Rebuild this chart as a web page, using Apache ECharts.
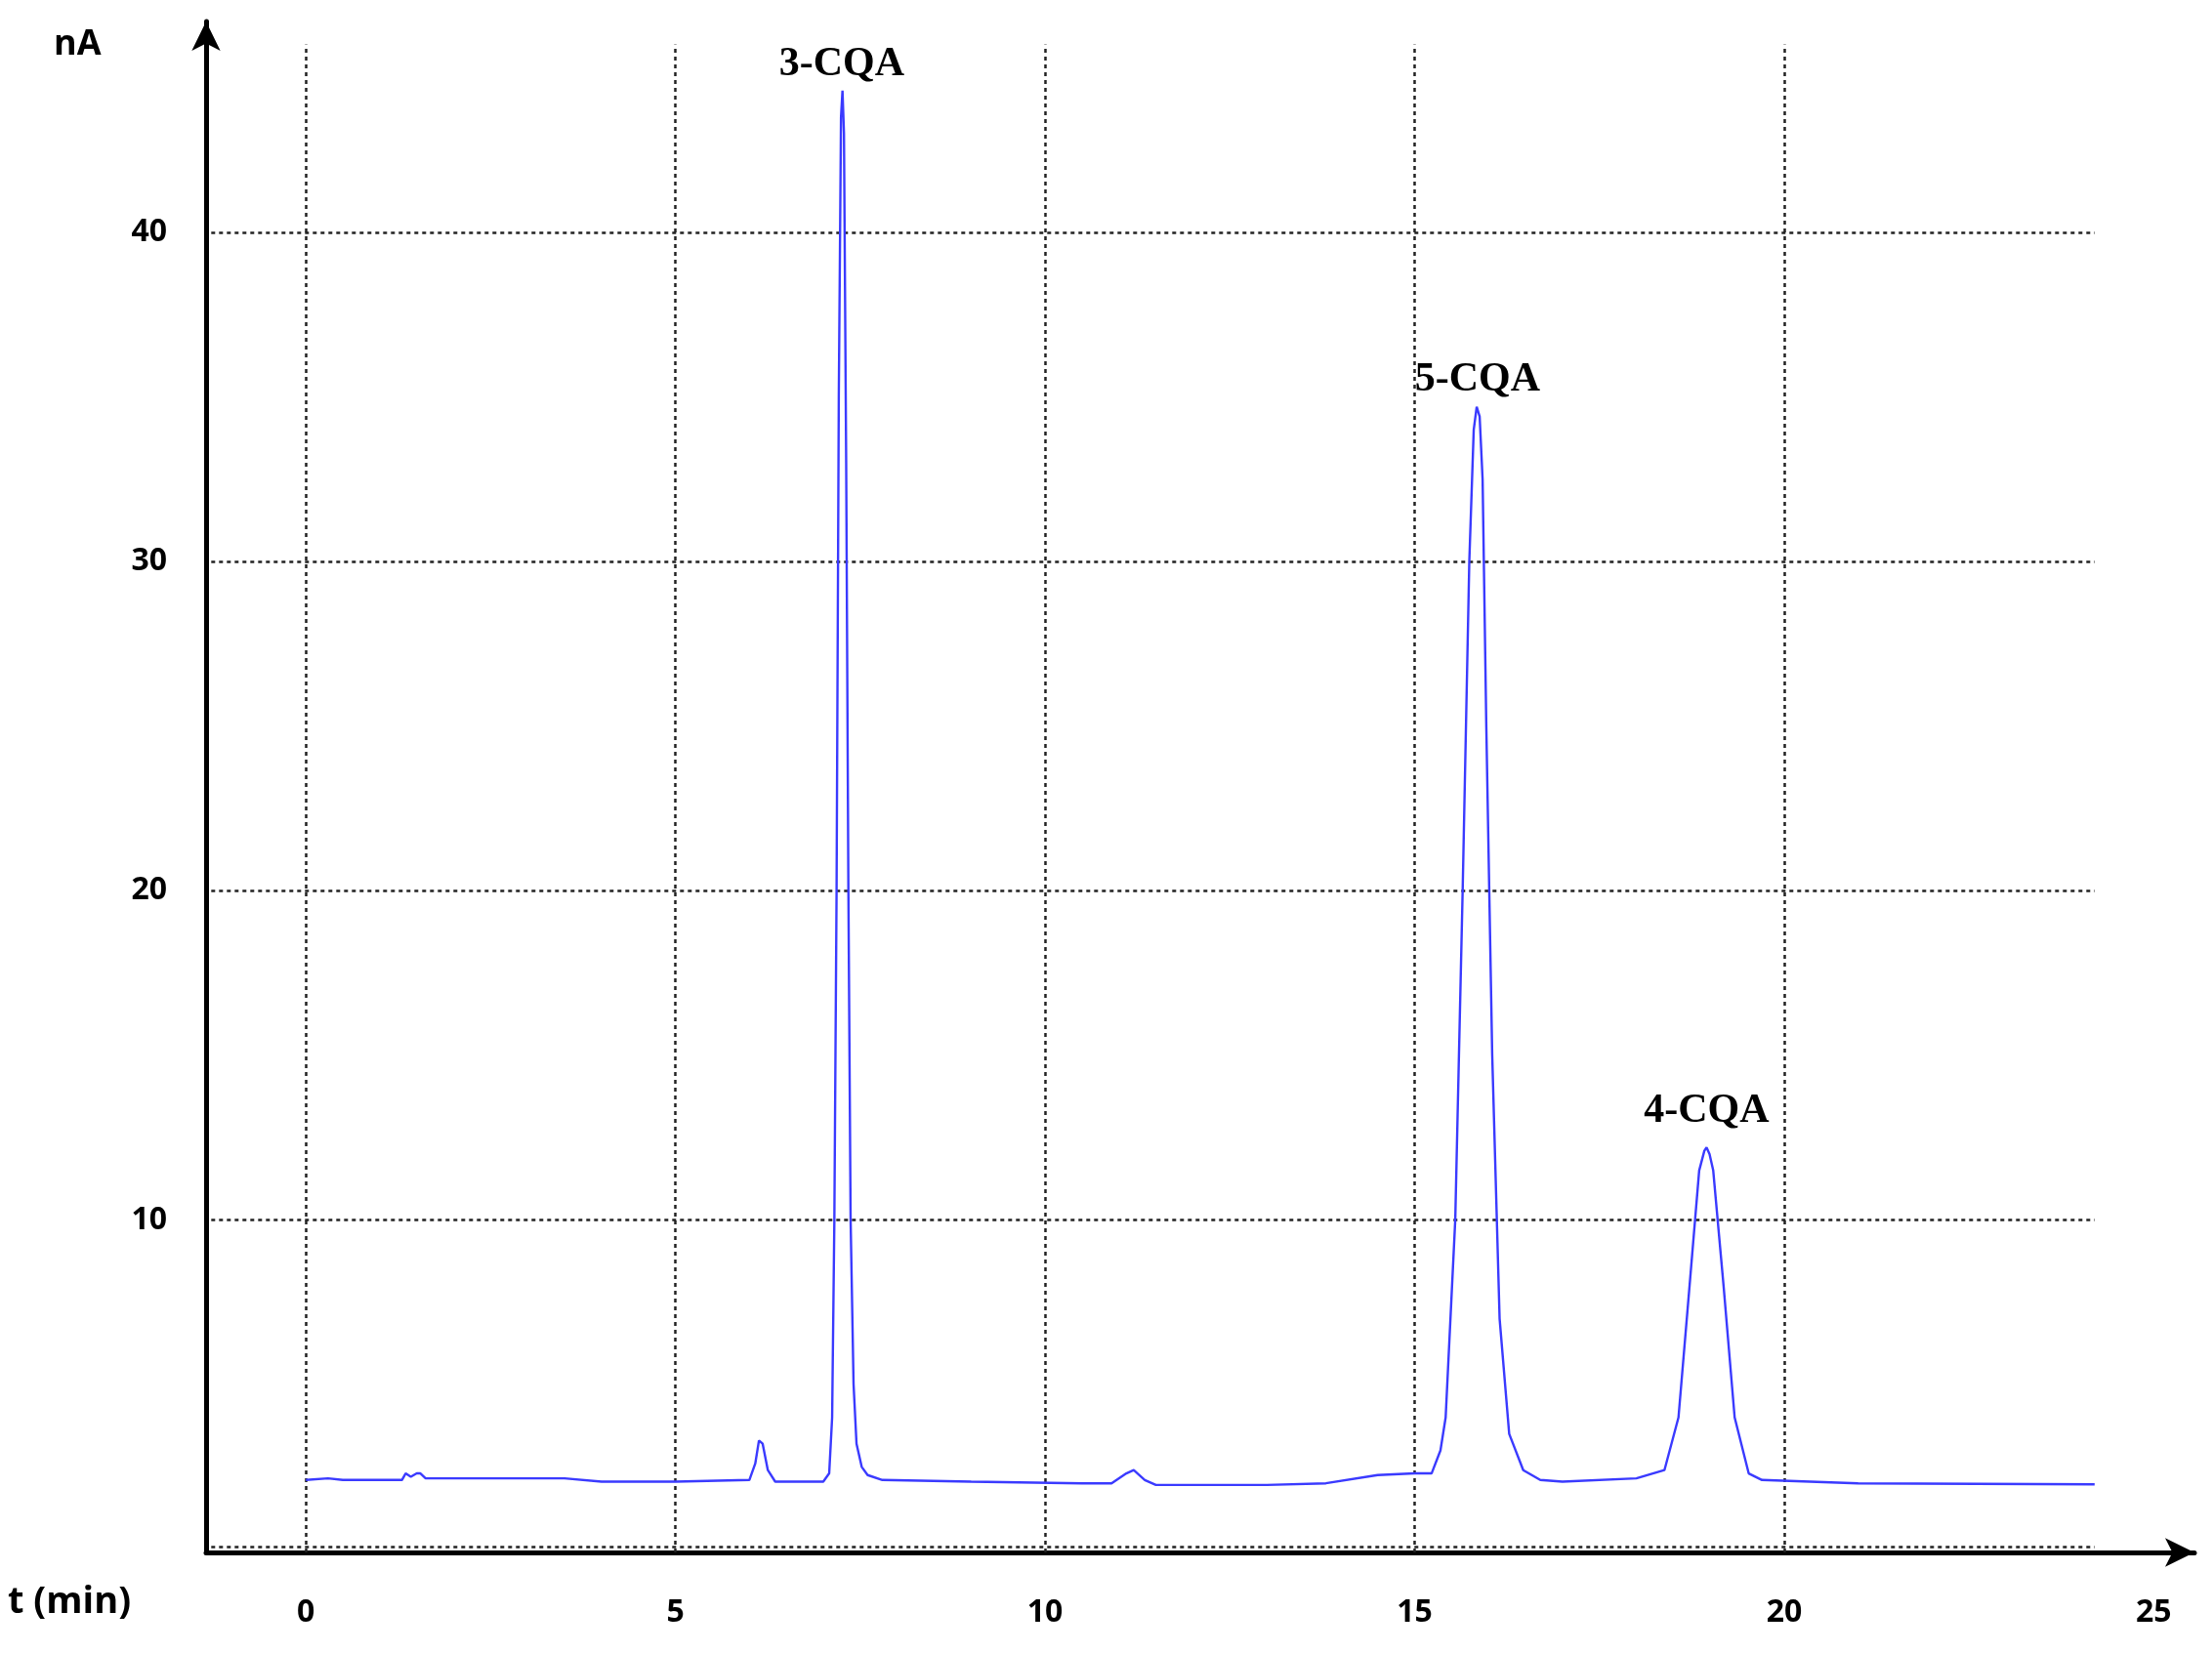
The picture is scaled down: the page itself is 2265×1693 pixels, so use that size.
<!DOCTYPE html>
<html><head><meta charset="utf-8">
<script src="https://cdn.jsdelivr.net/npm/echarts@6/dist/echarts.min.js"></script>
<style>html,body{margin:0;padding:0;background:#fff}#c{width:2265px;height:1693px}</style>
</head><body><div id="c"></div>
<script>
const xTicks = [0,5,10,15,20,25];
const yTicks = [10,20,30,40];
const vGrid = [0,5,10,15,20];
const hGrid = [0,10,20,30,40];
const signal = [
[0,2.1],[0.3,2.15],[0.5,2.1],[1.3,2.1],[1.35,2.3],[1.42,2.2],[1.5,2.3],[1.55,2.3],[1.62,2.15],[2.5,2.15],[2.8,2.15],[3.5,2.15],[4,2.05],[5,2.05],[6,2.1],
[6.08,2.6],[6.13,3.3],[6.18,3.2],[6.25,2.4],[6.35,2.05],[7.0,2.05],[7.08,2.3],[7.12,4],[7.15,10],[7.18,20],[7.21,35],[7.24,43.5],[7.26,44.3],[7.28,43],
[7.31,33],[7.34,20],[7.37,10],[7.41,5],[7.45,3.2],[7.52,2.5],[7.6,2.25],[7.8,2.1],[9,2.05],[10.5,2.0],[10.9,2.0],[11.1,2.3],[11.2,2.4],[11.35,2.1],
[11.5,1.95],[12,1.95],[13,1.95],[13.8,2.0],[14.5,2.25],[15.0,2.3],[15.23,2.3],[15.35,3],[15.42,4],[15.55,10],[15.65,20],[15.74,30],[15.8,34.0],[15.84,34.7],[15.88,34.4],[15.92,32.5],
[15.97,25],[16.05,15],[16.15,7],[16.28,3.5],[16.47,2.4],[16.7,2.1],[17.0,2.05],[18.0,2.15],[18.38,2.4],[18.57,4],[18.72,8],[18.85,11.5],[18.92,12.1],[18.95,12.2],[18.99,12.0],
[19.04,11.5],[19.18,8],[19.33,4],[19.52,2.3],[19.7,2.1],[21,2.0],[24.2,1.97]
];
const peakLabels = [['3-CQA',7.25,45.1],['5-CQA',15.85,35.5],['4-CQA',18.95,13.3]];

const gridStyle = {color:'#222',type:[4,4],width:2.5};
const gridLines = [];
vGrid.forEach(v=>gridLines.push([{coord:[v,-0.1]},{coord:[v,45.7]}]));
hGrid.forEach(v=>gridLines.push([{coord:[-1.28,v===0?0.08:v]},{coord:[24.2,v===0?0.08:v]}]));

const chart = echarts.init(document.getElementById('c'));
chart.setOption({
  animation:false,
  grid:{left:211,right:18,top:22,bottom:103},
  xAxis:{type:'value',min:-1.35,max:25.55,splitLine:{show:false},
    axisLine:{onZero:false,symbol:['none','arrow'],symbolSize:[22,30],lineStyle:{color:'#000',width:5}},
    axisTick:{show:false},
    axisLabel:{customValues:xTicks,margin:46,fontSize:32,fontWeight:'bold',color:'#000',fontFamily:'Open Sans'}},
  yAxis:{type:'value',min:-0.1,max:46.4,splitLine:{show:false},
    axisLine:{show:true,onZero:false,symbol:['none','arrow'],symbolSize:[22,30],lineStyle:{color:'#000',width:5}},
    axisTick:{show:false},
    axisLabel:{customValues:yTicks,margin:40,fontSize:32,fontWeight:'bold',color:'#000',fontFamily:'Open Sans'}},
  graphic:[
    {type:'text',left:55,top:28,style:{text:'nA',fontSize:36,fontWeight:'bold',fill:'#000',fontFamily:'Open Sans'}},
    {type:'text',left:8,top:1622,style:{text:'t (min)',fontSize:38,fontWeight:'bold',fill:'#000',fontFamily:'Open Sans'}}
  ],
  series:[
    {type:'line',data:[],markLine:{silent:true,symbol:'none',label:{show:false},lineStyle:gridStyle,data:gridLines}},
    {type:'line',data:signal,showSymbol:false,lineStyle:{color:'#3a3aff',width:2.4},z:5},
    {type:'scatter',data:peakLabels.map(p=>[p[1],p[2],p[0]]),symbolSize:0,itemStyle:{opacity:1},
      label:{show:true,position:'inside',formatter:p=>p.data[2],fontSize:42,fontWeight:'bold',color:'#000',fontFamily:'Liberation Serif'}}
  ]
});
</script></body></html>
